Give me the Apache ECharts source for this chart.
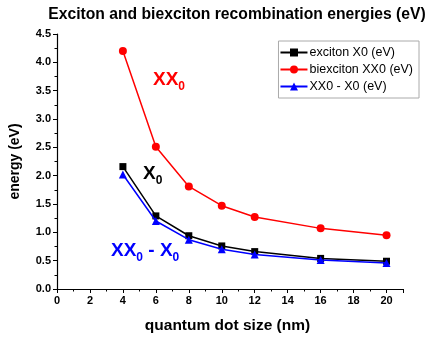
<!DOCTYPE html>
<html><head><meta charset="utf-8">
<script src="https://cdn.jsdelivr.net/npm/echarts@6/dist/echarts.min.js"></script>
<style>html,body{margin:0;padding:0;background:#fff}#c{width:428px;height:339px}</style>
</head><body><div id="c"></div>
<script>
const sizes = [4, 6, 8, 10, 12, 16, 20];
const excitonX0 = [2.16, 1.29, 0.94, 0.76, 0.66, 0.54, 0.49];
const biexcitonXX0 = [4.20, 2.51, 1.81, 1.47, 1.27, 1.07, 0.95];
const diffXX0X0 = [2.02, 1.20, 0.87, 0.70, 0.61, 0.51, 0.46];
const seriesNames = ['exciton X0 (eV)', 'biexciton XX0 (eV)', 'XX0 - X0 (eV)'];

const pair = (xs, ys) => xs.map((x, i) => [x, ys[i]]);
const F = 'Arial, "Liberation Sans", sans-serif';
const chart = echarts.init(document.getElementById('c'));
chart.setOption({
  animation: false,
  title: {
    text: 'Exciton and biexciton recombination energies (eV)',
    left: 232, top: 2, textAlign: 'center',
    textStyle: { fontFamily: F, fontWeight: 'bold', fontSize: 15.7, color: '#000' }
  },
  grid: { left: 56, right: 25, top: 34, bottom: 50 },
  legend: {
    orient: 'vertical', right: 9, top: 41,
    borderColor: '#aaa', borderWidth: 1, padding: [5, 6, 5, 1],
    itemGap: 4, itemWidth: 27, itemHeight: 10,
    textStyle: { fontFamily: F, fontSize: 12.5, color: '#000', padding: [0, 0, 0, -3] },
    data: seriesNames
  },
  xAxis: {
    type: 'value', min: 0, max: 21, interval: 2,
    name: 'quantum dot size (nm)', nameLocation: 'middle', nameGap: 29,
    nameTextStyle: { fontFamily: F, fontWeight: 'bold', fontSize: 15.5, color: '#000', padding: [0, 0, 0, -5] },
    axisLine: { lineStyle: { color: '#000', width: 1.2 } },
    axisTick: { inside: false, length: 4, lineStyle: { color: '#000' } },
    minorTick: { show: true, splitNumber: 2, length: 2.5, lineStyle: { color: '#000' } },
    axisLabel: { fontFamily: F, fontWeight: 'bold', fontSize: 11, color: '#000', margin: 6,
      formatter: v => (v > 20 ? '' : String(v)) },
    splitLine: { show: false }
  },
  yAxis: {
    type: 'value', min: 0, max: 4.5, interval: 0.5,
    name: 'energy (eV)', nameLocation: 'middle', nameGap: 35,
    nameTextStyle: { fontFamily: F, fontWeight: 'bold', fontSize: 14, color: '#000' },
    axisLine: { show: true, lineStyle: { color: '#000', width: 1.2 } },
    axisTick: { show: true, inside: false, length: 4, lineStyle: { color: '#000' } },
    minorTick: { show: true, splitNumber: 2, length: 2.5, lineStyle: { color: '#000' } },
    axisLabel: { fontFamily: F, fontWeight: 'bold', fontSize: 11, color: '#000', margin: 6,
      formatter: v => v.toFixed(1) },
    splitLine: { show: false }
  },
  series: [
    { name: seriesNames[0], type: 'line', data: pair(sizes, excitonX0),
      symbol: 'rect', symbolSize: 7, color: '#000',
      lineStyle: { width: 1.5 }, itemStyle: { color: '#000' }, z: 3 },
    { name: seriesNames[1], type: 'line', data: pair(sizes, biexcitonXX0),
      symbol: 'circle', symbolSize: 8, color: '#ff0000',
      lineStyle: { width: 1.5 }, itemStyle: { color: '#ff0000' }, z: 2 },
    { name: seriesNames[2], type: 'line', data: pair(sizes, diffXX0X0),
      symbol: 'triangle', symbolSize: 8, color: '#0000ff',
      lineStyle: { width: 1.5 }, itemStyle: { color: '#0000ff' }, z: 4 }
  ],
  graphic: [
    { type: 'text', left: 153, top: 70, style: {
        text: '{m|XX}{s|0}', rich: {
          m: { fontFamily: F, fontWeight: 'bold', fontSize: 19, fill: '#ff0000', lineHeight: 22 },
          s: { fontFamily: F, fontWeight: 'bold', fontSize: 12, fill: '#ff0000', padding: [14, 0, 0, 0] } } } },
    { type: 'text', left: 143, top: 164, style: {
        text: '{m|X}{s|0}', rich: {
          m: { fontFamily: F, fontWeight: 'bold', fontSize: 19, fill: '#000', lineHeight: 22 },
          s: { fontFamily: F, fontWeight: 'bold', fontSize: 12, fill: '#000', padding: [14, 0, 0, 0] } } } },
    { type: 'text', left: 111, top: 241, style: {
        text: '{m|XX}{s|0}{m| - X}{s|0}', rich: {
          m: { fontFamily: F, fontWeight: 'bold', fontSize: 19, fill: '#0000ff', lineHeight: 22 },
          s: { fontFamily: F, fontWeight: 'bold', fontSize: 12, fill: '#0000ff', padding: [14, 0, 0, 0] } } } }
  ]
});
</script></body></html>
